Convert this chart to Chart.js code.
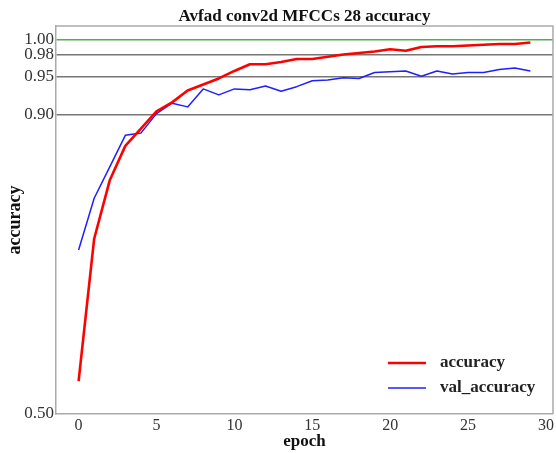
<!DOCTYPE html>
<html>
<head>
<meta charset="utf-8">
<script src="https://cdn.jsdelivr.net/npm/chart.js@4/dist/chart.umd.min.js"></script>
<style>
  html, body { margin: 0; padding: 0; background: #fff; }
  #wrap { width: 556px; height: 453px; position: relative; }
</style>
</head>
<body>
<div id="wrap"><canvas id="chart"></canvas></div>
<script>
const epochs = [0, 1, 2, 3, 4, 5, 6, 7, 8, 9, 10, 11, 12, 13, 14, 15, 16, 17, 18, 19, 20, 21, 22, 23, 24, 25, 26, 27, 28, 29];
const accuracy = [0.544, 0.734, 0.812, 0.858, 0.881, 0.904, 0.916, 0.932, 0.940, 0.948, 0.958, 0.967, 0.967, 0.970, 0.974, 0.974, 0.977, 0.980, 0.982, 0.984, 0.987, 0.985, 0.990, 0.991, 0.991, 0.992, 0.993, 0.994, 0.994, 0.996];
const valAccuracy = [0.719, 0.788, 0.830, 0.872, 0.875, 0.901, 0.915, 0.910, 0.934, 0.926, 0.934, 0.933, 0.938, 0.931, 0.937, 0.945, 0.946, 0.949, 0.948, 0.956, 0.957, 0.958, 0.951, 0.958, 0.954, 0.956, 0.956, 0.960, 0.962, 0.958];
const xTicks = [0, 5, 10, 15, 20, 25, 30];
const yTicks = [0.50, 0.90, 0.95, 0.98, 1.00];

const serif = '"Liberation Serif", "DejaVu Serif", serif';

// title centred over the plot area, not the whole canvas
const titlePlugin = {
  id: 'plotTitle',
  afterDraw(chart) {
    const { ctx, chartArea } = chart;
    ctx.save();
    ctx.font = 'bold 17px ' + serif;
    ctx.fillStyle = '#111';
    ctx.textAlign = 'center';
    ctx.textBaseline = 'alphabetic';
    ctx.fillText('Avfad conv2d MFCCs 28 accuracy', (chartArea.left + chartArea.right) / 2, 21);
    ctx.restore();
  }
};

// top and right frame lines + legend in the lower right corner
const framePlugin = {
  id: 'frame',
  afterDraw(chart) {
    const { ctx, chartArea: a } = chart;
    ctx.save();
    ctx.strokeStyle = '#aaa';
    ctx.lineWidth = 1.5;
    ctx.beginPath();
    ctx.moveTo(a.left, a.top);
    ctx.lineTo(a.right, a.top);
    ctx.lineTo(a.right, a.bottom);
    ctx.stroke();

    ctx.font = 'bold 17px ' + serif;
    ctx.textBaseline = 'middle';
    ctx.fillStyle = '#222';
    chart.data.datasets.forEach((ds, i) => {
      const y = a.bottom - 51 + i * 25;
      ctx.strokeStyle = ds.borderColor;
      ctx.lineWidth = ds.borderWidth;
      ctx.beginPath();
      ctx.moveTo(a.right - 165, y);
      ctx.lineTo(a.right - 127, y);
      ctx.stroke();
      ctx.fillText(ds.label, a.right - 113, y);
    });
    ctx.restore();
  }
};

new Chart(document.getElementById('chart'), {
  type: 'line',
  data: {
    datasets: [
      {
        label: 'accuracy',
        data: epochs.map((e, i) => ({ x: e, y: accuracy[i] })),
        borderColor: '#ff0000',
        borderWidth: 2.6,
        pointRadius: 0,
        tension: 0,
        borderJoinStyle: 'round'
      },
      {
        label: 'val_accuracy',
        data: epochs.map((e, i) => ({ x: e, y: valAccuracy[i] })),
        borderColor: '#1f1fff',
        borderWidth: 1.5,
        pointRadius: 0,
        tension: 0,
        borderJoinStyle: 'round'
      }
    ]
  },
  options: {
    responsive: true,
    maintainAspectRatio: false,
    animation: false,
    layout: { padding: { top: 26, right: 3, left: 0, bottom: 0 } },
    plugins: {
      legend: { display: false },
      title: { display: false },
      tooltip: { enabled: false }
    },
    scales: {
      x: {
        type: 'linear',
        min: -1.45,
        max: 30.45,
        afterBuildTicks: s => { s.ticks = xTicks.map(v => ({ value: v })); },
        afterFit: s => { s.height = 39; },
        grid: { display: false, drawTicks: false },
        border: { display: true, color: '#aaa', width: 1.5 },
        ticks: { color: '#333', font: { family: serif, size: 16 }, padding: 2, maxRotation: 0 },
        title: {
          display: true, text: 'epoch', color: '#111',
          font: { family: serif, size: 17, weight: 'bold' },
          padding: { top: 0, bottom: 1 }
        }
      },
      y: {
        min: 0.5,
        max: 1.018,
        afterBuildTicks: s => { s.ticks = yTicks.map(v => ({ value: v })); },
        afterFit: s => { s.width = 56; },
        grid: {
          drawTicks: false,
          color: c => {
            const v = c.tick ? c.tick.value : null;
            if (Math.abs(v - 1) < 1e-6) return '#4caf50';
            if (Math.abs(v - 0.5) < 1e-6) return 'rgba(0,0,0,0)';
            return '#777';
          },
          lineWidth: 1.5
        },
        border: { display: true, color: '#aaa', width: 1.5 },
        ticks: {
          color: '#333', font: { family: serif, size: 17 }, padding: 2,
          callback: v => v.toFixed(2)
        },
        title: {
          display: true, text: 'accuracy', color: '#111',
          font: { family: serif, size: 18, weight: 'bold' },
          padding: { top: 5, bottom: 0 }
        }
      }
    }
  },
  plugins: [titlePlugin, framePlugin]
});
</script>
</body>
</html>
